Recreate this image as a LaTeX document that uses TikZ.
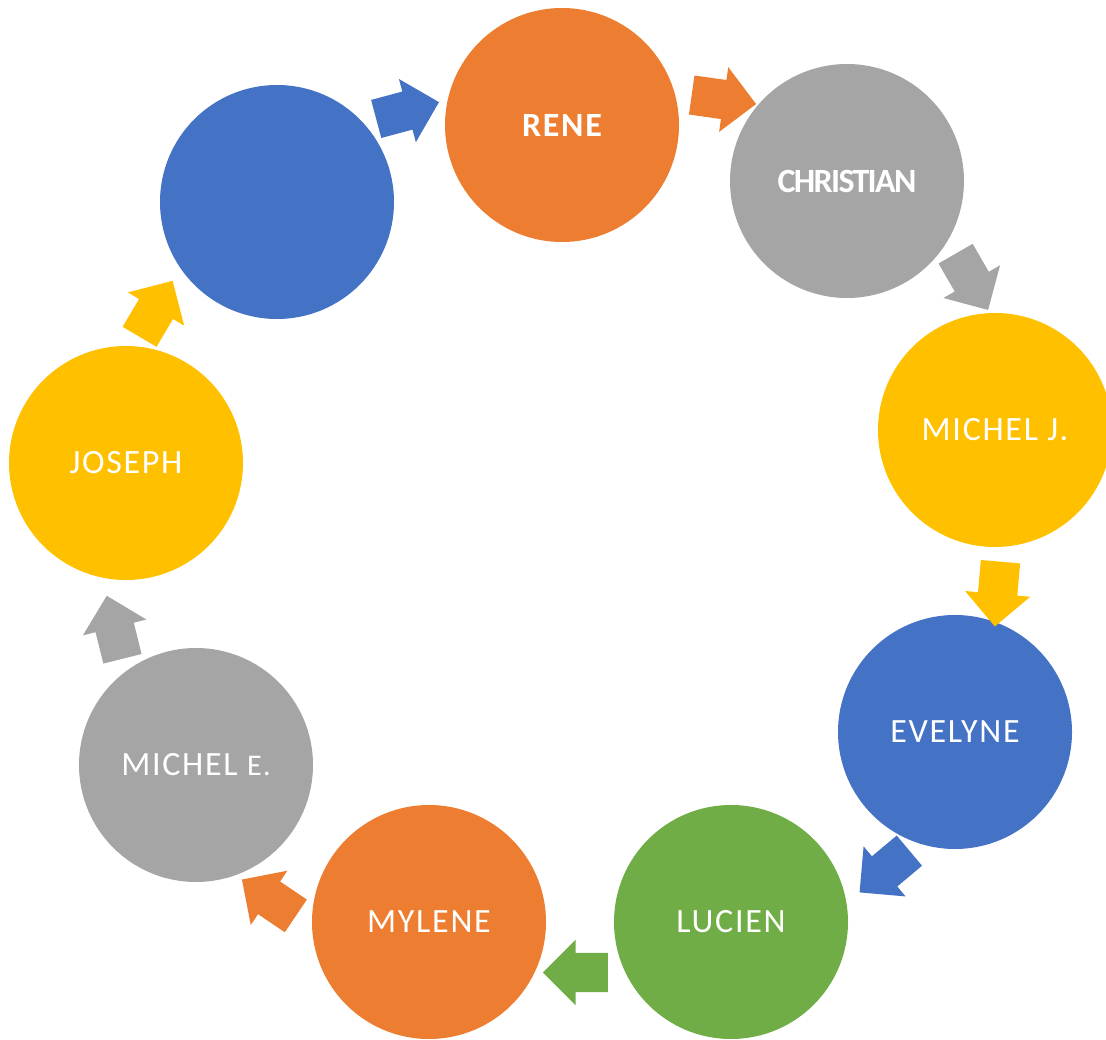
\documentclass[tikz,border=0pt]{standalone}
\usepackage{fontspec}
\setmainfont{Carlito}
\usetikzlibrary{shapes.arrows}
\definecolor{cblue}{HTML}{4472C4}
\definecolor{corange}{HTML}{ED7D31}
\definecolor{cgray}{HTML}{A5A5A5}
\definecolor{cyellow}{HTML}{FFC000}
\definecolor{cgreen}{HTML}{70AD47}
\begin{document}
\begin{tikzpicture}[x=1pt,y=-1pt,
  person/.style={circle,fill=#1,draw=none,minimum size=234pt,inner sep=0pt,text=white,font=\fontsize{34}{34}\selectfont\addfontfeature{LetterSpace=5}},
  blockarrow/.style={single arrow,fill=#1,draw=none,minimum height=65pt,minimum width=65pt,single arrow head extend=13pt,inner xsep=0pt,inner ysep=19.5pt,single arrow tip angle=90,anchor=tail}]
\useasboundingbox (0,0) rectangle (1106,1040);
\node[person=cblue] (p0) at (277,202) {};
\node[person=corange,font=\fontsize{34}{34}\selectfont\bfseries\addfontfeature{LetterSpace=5}] (p1) at (562,125) {RENE};
\node[person=cgray,font=\fontsize{34}{34}\selectfont\bfseries\addfontfeature{LetterSpace=-5}] (p2) at (847,181) {CHRISTIAN};
\node[person=cyellow] (p3) at (995,430) {MICHEL J.};
\node[person=cblue] (p4) at (955,732) {EVELYNE};
\node[person=cgreen] (p5) at (731,922) {LUCIEN};
\node[person=corange] (p6) at (429,922) {MYLENE};
\node[person=cgray] (p7) at (196,765) {MICHEL {\fontsize{30}{30}\selectfont E.}};
\node[person=cyellow] (p8) at (126,463) {JOSEPH};
\node[blockarrow=cblue,rotate=15] (a1) at (376,119) {};
\node[blockarrow=corange,rotate=-8] (a2) at (691.5,95) {};
\node[blockarrow=cgray,rotate=-60] (a3) at (955.5,253.5) {};
\node[blockarrow=cyellow,rotate=-95] (a4) at (1000.5,561.5) {};
\node[blockarrow=cblue,rotate=-140] (a5) at (909.5,850.5) {};
\node[blockarrow=cgreen,rotate=180] (a6) at (608,972.5) {};
\node[blockarrow=corange,rotate=146] (a7) at (296,916) {};
\node[blockarrow=cgray,rotate=104] (a8) at (122.5,659) {};
\node[blockarrow=cyellow,rotate=59.5] (a9) at (139.5,337) {};
\end{tikzpicture}
\end{document}
